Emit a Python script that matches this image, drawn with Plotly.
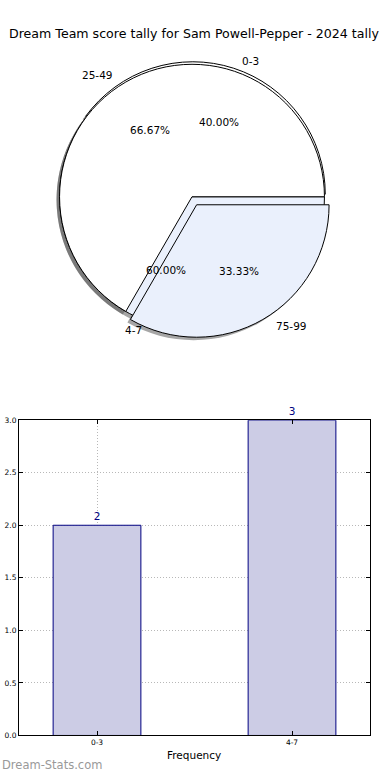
import math
import plotly.graph_objects as go

# ---------------- data ----------------
title_text = "Dream Team score tally for Sam Powell-Pepper - 2024 tally"
pie_a_labels = ["0-3", "4-7"]
pie_a_values = [2, 3]
pie_a_pull = [0.02, 0.0]
pie_a_colors = ["#ffffff", "#eaf0fc"]

pie_b_labels = ["25-49", "75-99"]
pie_b_values = [2, 1]
pie_b_pull = [0.0, 0.07]
pie_b_colors = ["#ffffff", "#eaf0fc"]

bar_categories = ["0-3", "4-7"]
bar_values = [2, 3]
y_ticks = [0.0, 0.5, 1.0, 1.5, 2.0, 2.5, 3.0]
x_label = "Frequency"
watermark = "Dream-Stats.com"

# ---------------- layout geometry ----------------
W, H = 390, 780
FONT = "DejaVu Sans"
CX, CY, R = 192.0, 195.0, 134.0   # pie centre / radius in pixels
LRX, LRY = 140.0, 129.0           # label placement radii (original axes were stretched)
SHADOW_DX, SHADOW_DY = -3.0, 3.0


def px(x):
    return x / W


def py(y):
    return 1 - y / H


def domain(cx, cy, pulls):
    half = R * (1 + max(pulls))
    return dict(x=[px(cx - half), px(cx + half)], y=[py(cy + half), py(cy - half)])


def start_rotation(values):
    # plotly (counterclockwise) places the first slice clockwise from `rotation`;
    # shift so that the first slice starts at 3 o'clock going counterclockwise
    return 90 - 360.0 * values[0] / float(sum(values))


fig = go.Figure()

pies = [
    (pie_a_labels, pie_a_values, pie_a_pull, pie_a_colors),
    (pie_b_labels, pie_b_values, pie_b_pull, pie_b_colors),
]

# shadows first
for labels, values, pull, colors in pies:
    fig.add_trace(go.Pie(
        labels=labels, values=values, pull=pull, sort=False,
        direction="counterclockwise", rotation=start_rotation(values),
        domain=domain(CX + SHADOW_DX, CY + SHADOW_DY, pull),
        marker=dict(colors=["rgba(77,77,77,0.5)"] * len(values), line=dict(width=0)),
        textinfo="none", hoverinfo="skip", showlegend=False,
    ))

for labels, values, pull, colors in pies:
    fig.add_trace(go.Pie(
        labels=labels, values=values, pull=pull, sort=False,
        direction="counterclockwise", rotation=start_rotation(values),
        domain=domain(CX, CY, pull),
        marker=dict(colors=colors, line=dict(color="#000000", width=1)),
        textinfo="none", showlegend=False,
    ))

annotations = []
for labels, values, pull, colors in pies:
    total = float(sum(values))
    start = 0.0
    for lab, v, p in zip(labels, values, pull):
        frac = v / total
        mid = math.radians(start + frac * 360 / 2)
        start += frac * 360
        c, s = math.cos(mid), math.sin(mid)
        ox, oy = CX + p * LRX * c, CY - p * LRY * s
        lx, ly = ox + 1.1 * LRX * c, oy - 1.1 * LRY * s
        annotations.append(dict(
            x=px(lx), y=py(ly), xref="paper", yref="paper", text=lab,
            showarrow=False, xanchor="left" if c > 0 else "right", yanchor="middle",
            font=dict(family=FONT, size=10.5, color="#000000"),
        ))
        tx, ty = ox + 0.6 * LRX * c, oy - 0.6 * LRY * s
        annotations.append(dict(
            x=px(tx), y=py(ty), xref="paper", yref="paper", text="%.2f%%" % (frac * 100),
            showarrow=False, xanchor="center", yanchor="middle",
            font=dict(family=FONT, size=10.5, color="#000000"),
        ))

annotations.append(dict(
    x=px(194), y=py(30), xref="paper", yref="paper", text=title_text,
    showarrow=False, xanchor="center", yanchor="middle",
    font=dict(family=FONT, size=12.6, color="#000000"),
))
annotations.append(dict(
    x=px(194), y=py(760), xref="paper", yref="paper", text=x_label,
    showarrow=False, xanchor="center", yanchor="middle",
    font=dict(family=FONT, size=10.5, color="#000000"),
))
annotations.append(dict(
    x=0, y=py(770), xref="paper", yref="paper", text=watermark,
    showarrow=False, xanchor="left", yanchor="middle",
    font=dict(family=FONT, size=11.5, color="#999999"),
))

# ---------------- bar chart ----------------
fig.add_trace(go.Bar(
    x=bar_categories, y=bar_values, width=0.45,
    marker=dict(color="#ccccE5", line=dict(color="#000080", width=1)),
    text=[str(v) for v in bar_values], textposition="outside",
    textfont=dict(family=FONT, size=10.5, color="#000080"),
    cliponaxis=False, showlegend=False, xaxis="x", yaxis="y",
))

axis_common = dict(
    showline=True, linecolor="#000000", linewidth=1, mirror="ticks",
    ticks="inside", ticklen=4, tickcolor="#000000",
    showgrid=True, gridcolor="#b8b8b8", gridwidth=1, griddash="1px,2px",
    zeroline=False, tickfont=dict(family=FONT, size=7.5, color="#000000"),
)

fig.update_layout(
    width=W, height=H, margin=dict(l=0, r=0, t=0, b=0),
    paper_bgcolor="#ffffff", plot_bgcolor="#ffffff",
    showlegend=False,
    xaxis=dict(domain=[px(19), px(370)], range=[-0.4, 1.4], type="category",
               anchor="y", **axis_common),
    yaxis=dict(domain=[py(740), py(421)], range=[0, 3], tickvals=y_ticks,
               ticktext=["%.1f" % t for t in y_ticks], anchor="x", **axis_common),
    annotations=annotations,
)

fig.write_html("out.html", config={"displayModeBar": False},
               post_script="document.body.style.margin='0px';")
